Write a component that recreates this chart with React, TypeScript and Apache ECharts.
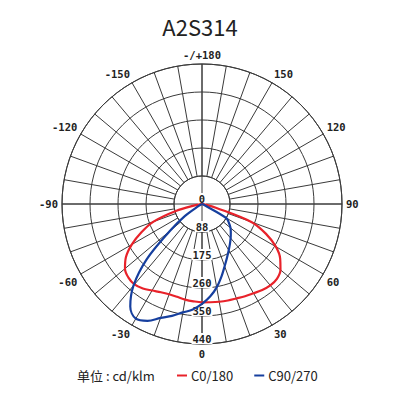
import { useEffect, useRef } from "react";
import * as echarts from "echarts";

// gamma angles, 0 = straight down, negative = left half
const angles = [
  -90, -85, -80, -75, -70, -65, -60, -55, -50, -45, -40, -35, -30, -25, -20, -15, -10, -5, 0,
  5, 10, 15, 20, 25, 30, 35, 40, 45, 50, 55, 60, 65, 70, 75, 80, 85, 90,
];
const c0Values = [
  0, 3, 20, 85, 162, 210, 255, 292, 316, 327, 330, 324, 314, 306, 302, 302, 305, 307, 309,
  310, 312, 314, 316, 320, 324, 330, 334, 333, 322, 300, 268, 222, 165, 45, 10, 3, 0,
];
const c90Values = [
  0, 0, 0, 0, 0, 2, 12, 65, 132, 246, 335, 393, 416, 405, 381, 364, 346, 333, 314,
  292, 266, 236, 208, 186, 168, 153, 140, 128, 117, 103, 88, 8, 0, 0, 0, 0, 0,
];
const ringValues = [0, 88, 176, 264, 352, 440];
const ringLabels = ["0", "88", "175", "260", "350", "440"];
const seriesNames = ["C0/180", "C90/270"];
const seriesColors = ["#e8222a", "#163f9e"];
const chartTitle = "A2S314";
const unitText = "单位 : cd/klm";

const CENTER = [202, 204];
const gridColor = "#3a3a3a";
const monoFont = "DejaVu Sans Mono";
const sansFont = "Noto Sans CJK SC";

function toPolar(values: number[]) {
  return angles.map((a, i) => [values[i], a < 0 ? a + 360 : a]);
}

function angleLabel(v: number) {
  if (v % 30 !== 0 || v === 360) return "";
  if (v === 180) return "-/+180";
  return v > 180 ? String(v - 360) : String(v);
}

export default function App() {
  const chartRef = useRef<HTMLDivElement>(null);

  useEffect(() => {
    if (!chartRef.current) return;
    const chart = echarts.init(chartRef.current, undefined, { renderer: "svg" });

    chart.setOption({
      animation: false,
      backgroundColor: "#fff",
      title: [
        {
          text: chartTitle,
          left: "center",
          top: 10,
          textStyle: { fontSize: 22, fontWeight: "normal", color: "#222", fontFamily: sansFont },
        },
        {
          text: unitText,
          left: 72,
          top: 364,
          textStyle: { fontSize: 13, fontWeight: "normal", color: "#222", fontFamily: sansFont },
        },
      ],
      legend: {
        data: seriesNames,
        left: 172,
        top: 364,
        icon: "rect",
        itemWidth: 10,
        itemHeight: 2,
        itemGap: 21,
        textStyle: { fontSize: 13, color: "#222", fontFamily: sansFont, padding: [0, 0, 0, -1] },
      },
      polar: [
        { center: CENTER, radius: [28, 140] },
        { center: CENTER, radius: [0, 140] },
      ],
      angleAxis: [
        {
          polarIndex: 0,
          type: "value",
          min: 0,
          max: 360,
          interval: 10,
          startAngle: 270,
          clockwise: false,
          axisLine: { show: true, lineStyle: { color: gridColor, width: 1 } },
          axisTick: { show: false },
          splitLine: { show: true, lineStyle: { color: gridColor, width: 1 } },
          axisLabel: {
            show: true,
            margin: 4,
            formatter: angleLabel,
            color: "#222",
            fontSize: 10.5,
            fontWeight: "bold",
            fontFamily: monoFont,
          },
        },
        {
          polarIndex: 1,
          type: "value",
          min: 0,
          max: 360,
          interval: 90,
          startAngle: 270,
          clockwise: false,
          axisLine: { show: false },
          axisTick: { show: false },
          axisLabel: { show: false },
          splitLine: { show: true, lineStyle: { color: gridColor, width: 1 } },
        },
      ],
      radiusAxis: [
        {
          polarIndex: 0,
          type: "value",
          min: 0,
          max: 4,
          interval: 1,
          axisLine: { show: false },
          axisTick: { show: false },
          axisLabel: { show: false },
          splitLine: { show: true, lineStyle: { color: gridColor, width: 1 } },
        },
        {
          polarIndex: 1,
          type: "value",
          min: 0,
          max: 440,
          interval: 88,
          axisLine: { show: false },
          axisTick: { show: false },
          splitLine: { show: false },
          axisLabel: {
            show: true,
            margin: 0,
            rotate: 0,
            align: "center",
            verticalAlign: "bottom",
            color: "#222",
            fontSize: 10.5,
            fontWeight: "bold",
            fontFamily: monoFont,
            backgroundColor: "#fff",
            padding: [0, 1, 0, 1],
            formatter: (v: number) => {
              const i = ringValues.indexOf(v);
              return i >= 0 ? ringLabels[i] : "";
            },
          },
        },
      ],
      series: [
        {
          name: seriesNames[0],
          type: "line",
          coordinateSystem: "polar",
          polarIndex: 1,
          data: toPolar(c0Values),
          smooth: 0.35,
          showSymbol: false,
          symbol: "none",
          lineStyle: { color: seriesColors[0], width: 2.2 },
          itemStyle: { color: seriesColors[0] },
          z: 5,
        },
        {
          name: seriesNames[1],
          type: "line",
          coordinateSystem: "polar",
          polarIndex: 1,
          data: toPolar(c90Values),
          smooth: 0.35,
          showSymbol: false,
          symbol: "none",
          lineStyle: { color: seriesColors[1], width: 2.2 },
          itemStyle: { color: seriesColors[1] },
          z: 5,
        },
      ],
    });

    return () => {
      chart.dispose();
    };
  }, []);

  return (
    <div
      ref={chartRef}
      style={{ position: "fixed", left: 0, top: 0, width: 400, height: 400 }}
    />
  );
}
